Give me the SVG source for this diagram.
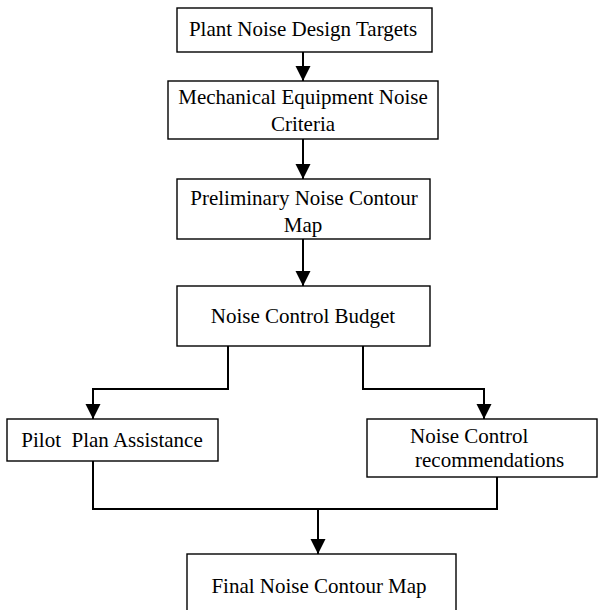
<svg xmlns="http://www.w3.org/2000/svg" width="598" height="610" viewBox="0 0 598 610">
<style>
.box{fill:#fff;stroke:#000;stroke-width:1.4}
.ln{fill:none;stroke:#000;stroke-width:2}
.t{font-family:"Liberation Serif","Times New Roman",serif;font-size:21px;fill:#000;text-anchor:middle}
.l{text-anchor:start}
</style>
<defs>
<marker id="ah" markerUnits="userSpaceOnUse" markerWidth="16" markerHeight="18" refX="15" refY="7.5" orient="auto">
<path d="M0,0 L15,7.5 L0,15 Z" fill="#000"/>
</marker>
</defs>
<rect width="598" height="610" fill="#fff"/>
<g id="connectors">
<path class="ln" d="M303,52 V81" marker-end="url(#ah)"/>
<path class="ln" d="M303,139 V179" marker-end="url(#ah)"/>
<path class="ln" d="M303,239 V286" marker-end="url(#ah)"/>
<path class="ln" d="M228,346 V389 H93 V419" marker-end="url(#ah)"/>
<path class="ln" d="M363,346 V389 H484 V419" marker-end="url(#ah)"/>
<path class="ln" d="M93,461 V509 H497 V477"/>
<path class="ln" d="M318,509 V554" marker-end="url(#ah)"/>
</g>
<g id="n1"><rect class="box" x="177" y="8" width="255" height="44"/><text class="t" x="303" y="36">Plant Noise Design Targets</text></g>
<g id="n2"><rect class="box" x="168" y="81" width="270" height="58"/><text class="t" x="303" y="104">Mechanical Equipment Noise</text><text class="t" x="303" y="131">Criteria</text></g>
<g id="n3"><rect class="box" x="177" y="179" width="253" height="60"/><text class="t" x="304" y="205">Preliminary Noise Contour</text><text class="t" x="303" y="232">Map</text></g>
<g id="n4"><rect class="box" x="177" y="286" width="253" height="60"/><text class="t" x="303" y="323">Noise Control Budget</text></g>
<g id="n5"><rect class="box" x="7" y="419" width="211" height="42"/><text class="t" x="112" y="447" xml:space="preserve">Pilot  Plan Assistance</text></g>
<g id="n6"><rect class="box" x="367" y="419" width="230" height="58"/><text class="t l" x="410" y="443">Noise Control</text><text class="t l" x="415" y="467">recommendations</text></g>
<g id="n7"><rect class="box" x="187" y="554" width="269" height="70"/><text class="t" x="319" y="593">Final Noise Contour Map</text></g>
</svg>
